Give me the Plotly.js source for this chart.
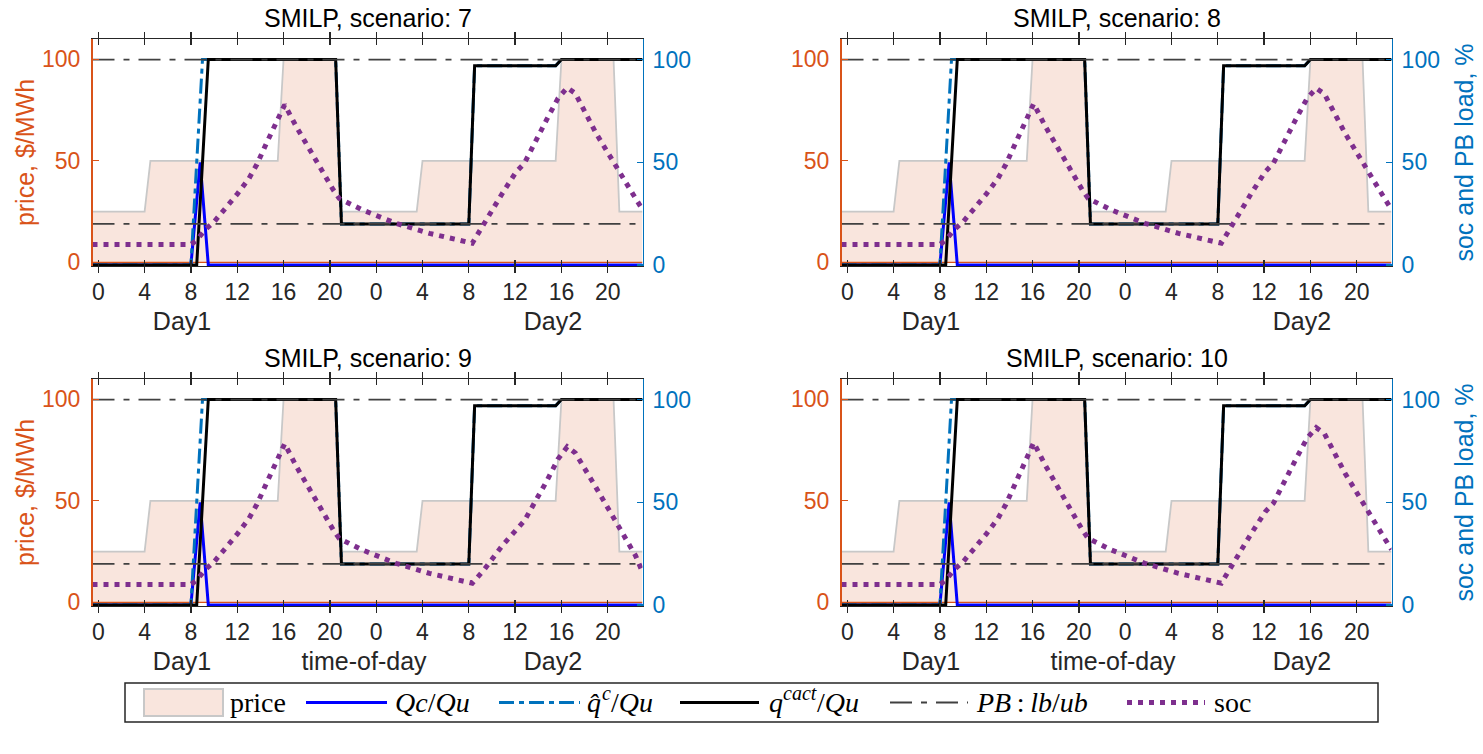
<!DOCTYPE html>
<html><head><meta charset="utf-8">
<script src="https://cdn.plot.ly/plotly-3.0.1.min.js"></script>
<style>html,body{margin:0;padding:0;background:#fff;}#chart{width:1483px;height:754px;}</style>
</head><body><div id="chart"></div>
<script>
// ---------------- data ----------------
const scenarios = [7, 8, 9, 10];
const tickVals = [0, 4, 8, 12, 16, 20, 24, 28, 32, 36, 40, 44];
const tickText = ['0', '4', '8', '12', '16', '20', '0', '4', '8', '12', '16', '20'];
const leftTicks = [0, 50, 100];
const rightTicks = [0, 50, 100];
const xLabelWords = [['Day1', 'Day2'], ['Day1', 'time-of-day', 'Day2']];

// price, $/MWh
const priceX = [-0.5, 4, 4.5, 15.5, 16, 20.5, 21, 27.5, 28, 39.5, 40, 44.5, 45, 47];
const priceY = [25, 25, 50, 50, 100, 100, 25, 25, 50, 50, 100, 100, 25, 25];

// Qc/Qu, %
const qcX = [-0.5, 8, 8.8, 9.5, 47];
const qcY = [0, 0, 50, 0, 0];

// q-hat^c/Qu, %
const qhatX = [-0.5, 8, 9, 20.5, 21, 32, 32.5, 39.5, 40, 47];
const qhatY = [0, 0, 100, 100, 20, 20, 97, 97, 100, 100];

// q^cact/Qu, %
const qactX = [-0.5, 8.5, 9.5, 20.5, 21, 32, 32.5, 39.5, 40, 47];
const qactY = [0, 0, 100, 100, 20, 20, 97, 97, 100, 100];

// PB lower / upper bound, %
const pbX = [-0.5, 47];
const pbLb = [20, 20];
const pbUb = [100, 100];

// state of charge, %
const socX = [-0.5, 8, 8.5, 9.2, 10, 11, 12, 13, 13.7, 14.5, 15.3, 16.1, 17.1, 18.5, 20.3, 20.8, 22.8, 25.7, 28.6, 32.3, 33.3, 34.9, 36.1, 36.8, 38.7, 39.7, 40.5, 41.2, 43, 44.7, 46.4, 47];
const soc7  = [10, 10, 12, 17, 21, 27.5, 34.5, 42, 49, 59, 69, 78, 67.3, 53.5, 36.5, 32.4, 26.8, 20.3, 15.4, 10.6, 20.3, 34.9, 45.4, 49.5, 70.5, 81.1, 86.3, 83.5, 64, 47.7, 32.4, 27];
const soc8  = [10, 10, 12, 17, 21, 27.5, 34.5, 42, 49, 59, 69, 78.5, 67.5, 53.5, 36.5, 32.4, 26.8, 20.3, 15.4, 10.6, 20.3, 34.9, 45.4, 49.5, 70.5, 81, 86, 83.3, 64, 47.7, 32.4, 27];
const soc9  = [10, 10, 12, 17, 21, 27.5, 34.5, 42, 49, 59, 69, 78.5, 67.5, 53.5, 36.5, 32.4, 26.8, 20.3, 15.4, 10.6, 17, 29, 37, 41, 60, 71, 77, 74, 57, 40, 24, 16];
const soc10 = [10, 10, 12, 17, 21, 27.5, 34.5, 42, 49, 59, 69, 79, 68, 54, 36.5, 32.4, 26.8, 20.3, 15.4, 10.6, 20.3, 34.9, 45.4, 49.5, 70.5, 81.1, 86.3, 83.5, 64, 47.7, 32.4, 27];
const socSeries = [soc7, soc8, soc9, soc10];

// ---------------- styling ----------------
const W = 1483, H = 754;
const ORANGE = '#D95319', BLUE = '#0072BD', AX = '#262626';
const SANS = 'Liberation Sans, Arial, Helvetica, sans-serif';
const SERIF = 'Liberation Serif, Times New Roman, serif';
const TICK = 23, LAB = 25;
const fx = p => p / W, fy = p => 1 - p / H;
const colPx = [[92.5, 642.5], [841.5, 1391.5]];
const rowPx = [[39, 266], [379, 606]];
const NB = n => '\u00A0'.repeat(n);
const xLabelText = [xLabelWords[0][0] + NB(45) + xLabelWords[0][1],
                    xLabelWords[1][0] + NB(13) + xLabelWords[1][1] + NB(14) + xLabelWords[1][2]];

const traces = [];
const layout = {
  width: W, height: H, margin: {l: 0, r: 0, t: 0, b: 0},
  paper_bgcolor: '#fff', plot_bgcolor: 'rgba(0,0,0,0)',
  showlegend: false, font: {family: SANS, size: TICK, color: AX},
  annotations: [], shapes: []
};

scenarios.forEach((sc, i) => {
  const row = Math.floor(i / 2), col = i % 2;
  const xa = i === 0 ? 'x' : 'x' + (i + 1);
  const yl = i === 0 ? 'y' : 'y' + (i + 1);
  const yr = 'y' + (i + 5);
  const xKey = i === 0 ? 'xaxis' : 'xaxis' + (i + 1);
  const ylKey = i === 0 ? 'yaxis' : 'yaxis' + (i + 1);
  const yrKey = 'yaxis' + (i + 5);
  const xd = [fx(colPx[col][0]), fx(colPx[col][1])];
  const yd = [fy(rowPx[row][1]), fy(rowPx[row][0])];

  layout[xKey] = {
    domain: xd, anchor: yl, range: [-0.5, 47],
    tickmode: 'array', tickvals: tickVals, ticktext: tickText,
    ticks: 'inside', ticklen: 6, tickwidth: 1.3, tickcolor: AX,
    showline: true, linecolor: AX, linewidth: 1.3, mirror: 'allticks',
    showgrid: false, zeroline: false, ticklabelstandoff: 5,
    tickfont: {family: SANS, size: TICK, color: AX},
    title: {text: xLabelText[row], font: {family: SANS, size: LAB, color: AX}, standoff: 8}
  };
  const yL = {
    domain: yd, anchor: xa, range: [-1.8, 110], side: 'left',
    tickmode: 'array', tickvals: leftTicks,
    ticks: 'inside', ticklen: 6, tickwidth: 1.3, tickcolor: ORANGE,
    showline: true, linecolor: ORANGE, linewidth: 1.5,
    showgrid: false, zeroline: false, ticklabelstandoff: 6,
    tickfont: {family: SANS, size: TICK, color: ORANGE}
  };
  if (col === 0) yL.title = {text: 'price, $/MWh', font: {family: SANS, size: LAB, color: ORANGE}, standoff: 0};
  layout[ylKey] = yL;
  const yR = {
    overlaying: yl, anchor: xa, range: [-0.5, 110], side: 'right',
    tickmode: 'array', tickvals: rightTicks,
    ticks: 'inside', ticklen: 6, tickwidth: 1.3, tickcolor: BLUE,
    showline: true, linecolor: BLUE, linewidth: 1.5,
    showgrid: false, zeroline: false, ticklabelstandoff: 4,
    tickfont: {family: SANS, size: TICK, color: BLUE}
  };
  if (col === 1) yR.title = {text: 'soc and PB load, %', font: {family: SANS, size: LAB, color: BLUE}, standoff: 16};
  layout[yrKey] = yR;

  // price area (left axis)
  traces.push({x: priceX, y: priceY, xaxis: xa, yaxis: yl, mode: 'lines', name: 'price',
    line: {color: '#c8c8c8', width: 1.8}, fill: 'tozeroy', fillcolor: 'rgba(217,83,25,0.15)', hoverinfo: 'skip'});
  // area baseline
  traces.push({x: pbX, y: [0, 0], xaxis: xa, yaxis: yl, mode: 'lines', line: {color: ORANGE, width: 1.2}, hoverinfo: 'skip'});
  // right axis series
  traces.push({x: qcX, y: qcY, xaxis: xa, yaxis: yr, mode: 'lines', name: 'Qc/Qu', line: {color: '#0000FF', width: 3}});
  traces.push({x: qhatX, y: qhatY, xaxis: xa, yaxis: yr, mode: 'lines', name: 'qhat/Qu', line: {color: BLUE, width: 3, dash: '15px,5px,5px,5px'}});
  traces.push({x: qactX, y: qactY, xaxis: xa, yaxis: yr, mode: 'lines', name: 'qcact/Qu', line: {color: '#000000', width: 3}});
  traces.push({x: pbX.concat([null], pbX), y: pbLb.concat([null], pbUb), xaxis: xa, yaxis: yr, mode: 'lines', name: 'PB: lb/ub',
    line: {color: '#404040', width: 1.8, dash: '22px,9px,6px,9px'}});
  traces.push({x: socX, y: socSeries[i], xaxis: xa, yaxis: yr, mode: 'lines', name: 'soc', line: {color: '#7E2F8E', width: 5, dash: '5px,6px'}});

  // subplot title
  const cx = (colPx[col][0] + colPx[col][1]) / 2;
  layout.annotations.push({text: 'SMILP, scenario: ' + sc, xref: 'paper', yref: 'paper', x: fx(cx), y: fy(rowPx[row][0] - 21),
    xanchor: 'center', yanchor: 'middle', showarrow: false, font: {family: SANS, size: LAB, color: '#000'}});
});

// ---------------- legend (drawn) ----------------
const LY = 702.5;
layout.shapes.push({type: 'rect', xref: 'paper', yref: 'paper', x0: fx(125), x1: fx(1378), y0: fy(722), y1: fy(683),
  line: {color: AX, width: 1.5}, fillcolor: '#fff', layer: 'above'});
layout.shapes.push({type: 'rect', xref: 'paper', yref: 'paper', x0: fx(144), x1: fx(223), y0: fy(716), y1: fy(689),
  line: {color: '#c8c8c8', width: 2}, fillcolor: 'rgba(217,83,25,0.15)', layer: 'above'});
const legLines = [
  [306, 387, '#0000FF', 3, 'solid'],
  [499, 580, BLUE, 3, '15px,5px,5px,5px'],
  [680, 759, '#000000', 3, 'solid'],
  [890, 968, '#404040', 2, '22px,9px,6px,9px'],
  [1127, 1205, '#7E2F8E', 5, '5px,6px']
];
legLines.forEach(([a, b, c, w, d]) => layout.shapes.push({type: 'line', xref: 'paper', yref: 'paper', x0: fx(a), x1: fx(b), y0: fy(LY), y1: fy(LY),
  line: {color: c, width: w, dash: d}, layer: 'above'}));
// [left x px, text, font size, vertical raise px]
const legTexts = [
  [228, 'price', 28, 0],
  [393, '<i>Qc</i>/<i>Qu</i>', 28, 0],
  [585, '<i>q\u0302</i>', 28, 0],
  [600, '<i>c</i>', 20, 10],
  [609, '/<i>Qu</i>', 28, 0],
  [767, '<i>q</i>', 28, 0],
  [781, '<i>cact</i>', 20, 10],
  [815, '/<i>Qu</i>', 28, 0],
  [974, '<i>PB</i>\u2009:\u2009<i>lb</i>/<i>ub</i>', 28, 0],
  [1212, 'soc', 28, 0]
];
legTexts.forEach(([x, t, s, up]) => layout.annotations.push({text: t, xref: 'paper', yref: 'paper', x: fx(x), y: fy(LY - up),
  xanchor: 'left', yanchor: 'middle', showarrow: false, font: {family: SERIF, size: s, color: '#000'}}));

Plotly.newPlot('chart', traces, layout, {staticPlot: true, displayModeBar: false});
</script></body></html>
